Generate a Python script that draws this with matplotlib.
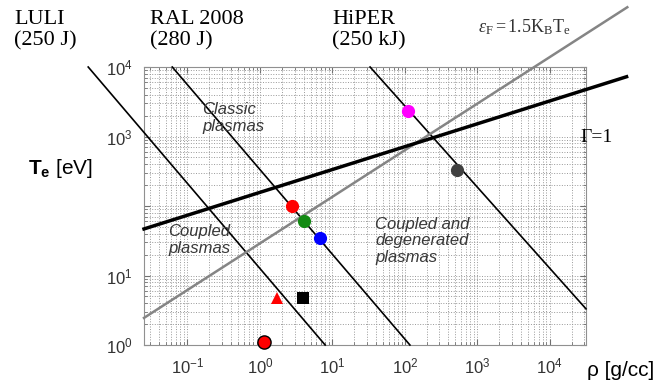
import numpy as np
import matplotlib.pyplot as plt

plt.rcParams['font.family'] = ['Liberation Sans', 'DejaVu Sans']
plt.rcParams['mathtext.fontset'] = 'custom'
plt.rcParams['mathtext.rm'] = 'Liberation Serif'
plt.rcParams['mathtext.it'] = 'Liberation Serif:italic'
plt.rcParams['mathtext.bf'] = 'Liberation Sans:bold'
plt.rcParams['mathtext.sf'] = 'Liberation Sans'

# iso-lines for each laser facility (density g/cc, Te eV), drawn end to end
luli_rho = [10**-2.37, 10**0.90]
luli_te = [1e4, 1.0]
ral_rho = [10**-1.21, 10**2.07]
ral_te = [1e4, 1.0]
hiper_rho = [10**1.52, 10**4.5]
hiper_te = [1e4, 10**0.52]

# Gamma = 1 and Fermi energy boundaries
gamma_rho = [10**-1.6, 10**5.06]
gamma_te = [10**1.67, 10**3.86]
fermi_rho = [10**-1.6, 10**5.07]
fermi_te = [10**0.39, 10**4.86]

# experimental / design points
pt_rho = [110, 525, 2.8, 4.0, 6.7, 1.7, 3.9, 1.14]
pt_te = [2300, 330, 100, 60, 35, 4.7, 4.7, 1.1]
pt_color = ['#ff00ff', '#404040', '#ff0000', '#138a13', '#0000ff', '#ff0000', '#000000', '#ff0000']
pt_marker = ['o', 'o', 'o', 'o', 'o', '^', 's', 'o']
pt_edge = ['none'] * 7 + ['black']

x_ticks = [1e-1, 1, 1e1, 1e2, 1e3, 1e4]
x_labels = [r'$\mathdefault{10^{-1}}$', r'$\mathdefault{10^{0}}$', r'$\mathdefault{10^{1}}$',
            r'$\mathdefault{10^{2}}$', r'$\mathdefault{10^{3}}$', r'$\mathdefault{10^{4}}$']
y_ticks = [1, 1e1, 1e2, 1e3, 1e4]
y_labels = [r'$\mathdefault{10^{0}}$', r'$\mathdefault{10^{1}}$', '',
            r'$\mathdefault{10^{3}}$', r'$\mathdefault{10^{4}}$']

W, H = 665, 384
fig = plt.figure(figsize=(W / 100, H / 100), dpi=100)
ax = fig.add_axes([144 / W, 1 - 345 / H, 442 / W, 278 / H])
ax.set_xscale('log')
ax.set_yscale('log')
ax.set_xlim(10**-1.6, 10**4.5)
ax.set_ylim(1, 1e4)

ax.grid(True, which='both', linestyle=':', color='#999999', linewidth=0.7)
ax.set_axisbelow(True)
for s in ax.spines.values():
    s.set_color('#909090')
ax.tick_params(which='both', direction='in', top=True, right=True, color='#707070')
ax.tick_params(which='major', length=4, labelsize=12, labelcolor='#333333', pad=8)
ax.tick_params(which='minor', length=2)
ax.set_xticks(x_ticks, x_labels)
ax.set_yticks(y_ticks, y_labels)

for r, t in [(luli_rho, luli_te), (ral_rho, ral_te), (hiper_rho, hiper_te)]:
    ax.plot(r, t, color='black', lw=1.2, clip_on=False, zorder=3)
ax.plot(fermi_rho, fermi_te, color='#858585', lw=1.8, clip_on=False, zorder=3)
ax.plot(gamma_rho, gamma_te, color='black', lw=2.5, clip_on=False, zorder=4)

for r, t, c, m, e in zip(pt_rho, pt_te, pt_color, pt_marker, pt_edge):
    ms = 9.5 if m == 'o' else 8.5
    ax.plot(r, t, marker=m, color=c, markersize=ms, markeredgecolor=e if e != 'none' else c,
            markeredgewidth=1.0 if e != 'none' else 0, linestyle='none', clip_on=False, zorder=5)


def px(x, y):
    return x / W, 1 - y / H


serif = 'Liberation Serif'
fig.text(*px(14, 10), 'LULI\n(250 J)', family=serif, fontsize=16, va='top', ha='left', linespacing=1.15)
fig.text(*px(150, 10), 'RAL 2008\n(280 J)', family=serif, fontsize=16, va='top', ha='left', linespacing=1.15)
fig.text(*px(332, 10), 'HiPER\n(250 kJ)', family=serif, fontsize=16, va='top', ha='left', linespacing=1.15)
fig.text(*px(478, 27), r'$\varepsilon_\mathrm{F}\mathrm{=1.5K_BT_e}$', fontsize=13, va='center', ha='left', color='#333333')
fig.text(*px(580, 138), 'Γ=1', family=serif, fontsize=14, va='center', ha='left')
fig.text(*px(28, 168), r'$\mathbf{T_e}$ [eV]', fontsize=15, va='center', ha='left')
fig.text(*px(587, 370), 'ρ [g/cc]', fontsize=15, va='center', ha='left')

fig.text(*px(202, 118), 'Classic\nplasmas', style='italic', fontsize=12, color='#383838', va='center', ha='left', linespacing=1.1)
fig.text(*px(168, 240), 'Coupled\nplasmas', style='italic', fontsize=12, color='#383838', va='center', ha='left', linespacing=1.1)
fig.text(*px(375, 241), 'Coupled and\ndegenerated\nplasmas', style='italic', fontsize=12, color='#383838', va='center', ha='left', linespacing=1.1)

fig.savefig('out.png', dpi=100)
